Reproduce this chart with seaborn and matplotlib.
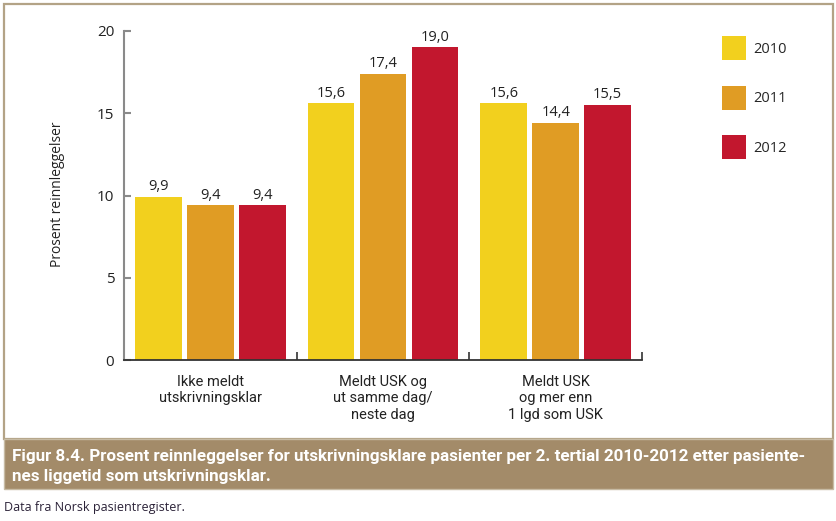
import matplotlib
matplotlib.use("Agg")
import matplotlib.pyplot as plt
from matplotlib.patches import Rectangle
import pandas as pd
import seaborn as sns

# data
groups = ["Ikke meldt\nutskrivningsklar",
          "Meldt USK og\nut samme dag/\nneste dag",
          "Meldt USK\nog mer enn\n1 lgd som USK"]
years = ["2010", "2011", "2012"]
v2010 = [9.9, 15.6, 15.6]
v2011 = [9.4, 17.4, 14.4]
v2012 = [9.4, 19.0, 15.5]
colors = ["#F2D01E", "#E09C24", "#C2172E"]

caption1 = ("Figur 8.4. Prosent reinnleggelser for utskrivningsklare pasienter "
            "per 2. tertial 2010-2012 etter pasiente-")
caption2 = "nes liggetid som utskrivningsklar."
source = "Data fra Norsk pasientregister."

df = pd.DataFrame({
    "gruppe": groups * 3,
    "aar": [y for y in years for _ in groups],
    "verdi": v2010 + v2011 + v2012,
})

sns.set_theme(style="white")
plt.rcParams["font.family"] = ["Open Sans", "DejaVu Sans"]
narrow = ["Roboto", "DejaVu Sans"]

W, H = 837, 521
fig = plt.figure(figsize=(W / 100, H / 100), dpi=100)

def fx(px):
    return px / W

def fy(py):
    return 1 - py / H

# frame around chart area and caption box
fig.patches.append(Rectangle((fx(4), fy(439)), fx(829), 435 / H, transform=fig.transFigure,
                             fill=False, edgecolor="#B3A386", linewidth=1.6, zorder=0))
fig.patches.append(Rectangle((fx(4), fy(489)), fx(829), 50 / H, transform=fig.transFigure,
                             facecolor="#A38B69", edgecolor="#C7BBA4", linewidth=1.0, zorder=0))

ax = fig.add_axes([fx(124), fy(360), (642 - 124) / W, (360 - 31) / H])
sns.barplot(data=df, x="gruppe", y="verdi", hue="aar", palette=colors,
            width=0.903, gap=0.1, saturation=1, linewidth=0, ax=ax)

for cont in ax.containers:
    ax.bar_label(cont, labels=[f"{v:.1f}".replace(".", ",") for v in cont.datavalues],
                 padding=2, fontsize=10.5, color="#222222")

ax.set_xlim(-0.5, 2.5)
ax.set_ylim(0, 20)
ax.set_yticks([0, 5, 10, 15, 20])
ax.set_xlabel("")
ax.set_ylabel("")
for s in ["top", "right"]:
    ax.spines[s].set_visible(False)
ax.spines["left"].set_color("#8A8A8A")
ax.spines["left"].set_linewidth(1.5)
ax.spines["bottom"].set_color("#333333")
ax.spines["bottom"].set_linewidth(1.3)

ax.tick_params(axis="y", direction="in", length=5, width=1.5, color="#8A8A8A",
               pad=7, labelsize=11, labelcolor="#222222", left=True)
ax.set_xticks([0, 1, 2])
ax.set_xticklabels(groups, fontfamily=narrow, fontsize=10.5, color="#222222")
ax.tick_params(axis="x", length=0, pad=11)
ax.set_xticks([0.5, 1.5, 2.5], minor=True)
ax.tick_params(axis="x", which="minor", direction="in", length=6, width=1.2,
               color="#333333", bottom=True)

fig.text(fx(58), fy(194), "Prosent reinnleggelser", rotation=90, ha="center", va="center",
         fontsize=10, color="#222222")

sns.move_legend(ax, "upper left", bbox_to_anchor=(fx(722), fy(36)),
                bbox_transform=fig.transFigure, frameon=False, title=None,
                handlelength=1.64, handleheight=2.15, labelspacing=1.76,
                handletextpad=0.5, borderpad=0, borderaxespad=0, fontsize=10.5)

# caption, first line fitted to the width used in the reference
t1 = fig.text(fx(12), fy(456), caption1, ha="left", va="center", fontsize=12,
              fontweight="bold", color="white", fontfamily=narrow)
w1 = t1.get_window_extent(renderer=fig.canvas.get_renderer()).width
size = 12 * 793 / w1
t1.set_fontsize(size)
fig.text(fx(12), fy(477), caption2, ha="left", va="center", fontsize=size,
         fontweight="bold", color="white", fontfamily=narrow)
fig.text(fx(4), fy(507), source, ha="left", va="center", fontsize=9, color="#2B2238")

fig.savefig("out.png", dpi=100)
